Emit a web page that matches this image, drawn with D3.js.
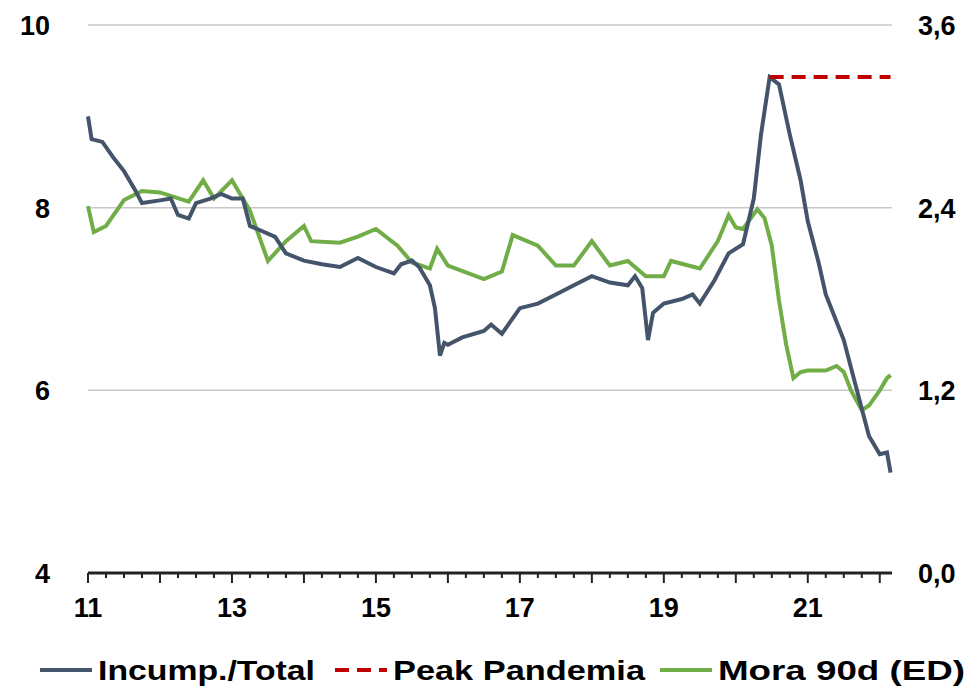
<!DOCTYPE html>
<html><head><meta charset="utf-8">
<script src="https://cdn.jsdelivr.net/npm/d3@7"></script>
<style>body{margin:0;background:#fff}text{font-family:"Liberation Sans",Arial,sans-serif;font-weight:bold}</style>
</head><body><div id="chart"></div>
<script>
// year-fraction, value
const incumpDates = [11.0,11.05,11.2,11.35,11.5,11.65,11.75,12.0,12.15,12.25,12.4,12.5,12.7,12.85,13.0,13.15,13.25,13.4,13.6,13.75,14.0,14.25,14.5,14.75,15.0,15.25,15.35,15.5,15.6,15.75,15.82,15.89,15.95,16.0,16.2,16.5,16.6,16.75,17.0,17.25,17.5,17.75,18.0,18.25,18.5,18.6,18.7,18.78,18.85,19.0,19.25,19.4,19.5,19.7,19.9,20.1,20.25,20.35,20.47,20.6,20.75,20.9,21.0,21.15,21.25,21.5,21.7,21.85,22.0,22.1,22.15];
const incumpValues = [9.0,8.75,8.72,8.55,8.4,8.2,8.05,8.08,8.1,7.92,7.88,8.05,8.1,8.15,8.1,8.1,7.8,7.75,7.68,7.5,7.42,7.38,7.35,7.45,7.35,7.28,7.38,7.42,7.35,7.15,6.9,6.38,6.52,6.5,6.58,6.65,6.72,6.62,6.9,6.95,7.05,7.15,7.25,7.18,7.15,7.25,7.12,6.55,6.85,6.95,7.0,7.05,6.95,7.2,7.5,7.6,8.1,8.8,9.43,9.35,8.8,8.3,7.85,7.4,7.05,6.55,5.95,5.5,5.3,5.32,5.1];
const moraDates = [11.0,11.08,11.25,11.5,11.75,12.0,12.4,12.6,12.75,13.0,13.25,13.5,13.75,14.0,14.1,14.5,14.75,15.0,15.3,15.5,15.75,15.85,16.0,16.5,16.75,16.9,17.25,17.5,17.75,18.0,18.25,18.5,18.75,19.0,19.1,19.5,19.75,19.9,20.0,20.1,20.3,20.4,20.5,20.6,20.7,20.8,20.9,21.0,21.25,21.4,21.5,21.6,21.75,21.85,22.0,22.1,22.15];
const moraValues = [2.41,2.24,2.28,2.45,2.51,2.5,2.44,2.58,2.46,2.58,2.38,2.05,2.18,2.28,2.18,2.17,2.21,2.26,2.15,2.04,2.0,2.13,2.02,1.93,1.98,2.22,2.15,2.02,2.02,2.18,2.02,2.05,1.95,1.95,2.05,2.0,2.18,2.35,2.27,2.26,2.39,2.33,2.15,1.79,1.5,1.28,1.32,1.33,1.33,1.36,1.32,1.2,1.07,1.1,1.2,1.28,1.30];
const peakValue = 9.43, peakStart = 20.47, peakEnd = 22.15;
const xTicks = [11,13,15,17,19,21];
const leftTicks = [4,6,8,10];
const rightTicks = [0,1.2,2.4,3.6];

const W = 978, H = 693;
const svg = d3.select("#chart").append("svg").attr("width", W).attr("height", H);
const x = d3.scaleLinear().domain([11, 22.17]).range([88, 892]);
const y = d3.scaleLinear().domain([4, 10]).range([573, 25]);
const y2 = d3.scaleLinear().domain([0, 3.6]).range([573, 25]);

svg.append("g").selectAll("line").data(leftTicks.slice(1)).join("line")
  .attr("x1", 88).attr("x2", 892).attr("y1", d => y(d)).attr("y2", d => y(d))
  .attr("stroke", "#c8c8c8").attr("stroke-width", 1.5);

svg.append("g").selectAll("text").data(leftTicks).join("text")
  .attr("x", 50).attr("y", d => y(d) + 10).attr("text-anchor", "end")
  .attr("font-size", 27).text(d => d);
svg.append("g").selectAll("text").data(rightTicks).join("text")
  .attr("x", 918).attr("y", d => y2(d) + 10).attr("font-size", 27)
  .text(d => d.toFixed(1).replace(".", ","));

// x axis
svg.append("line").attr("x1", 88).attr("x2", 892).attr("y1", 573).attr("y2", 573)
  .attr("stroke", "#222").attr("stroke-width", 3);
const monthTicks = d3.range(11, 22.17, 1/4);
svg.append("g").selectAll("line").data(monthTicks).join("line")
  .attr("x1", d => x(d)).attr("x2", d => x(d)).attr("y1", 573)
  .attr("y2", d => Number.isInteger(d) ? 583 : 578)
  .attr("stroke", "#222").attr("stroke-width", 2);
svg.append("g").selectAll("text").data(xTicks).join("text")
  .attr("x", d => x(d)).attr("y", 617).attr("text-anchor", "middle")
  .attr("font-size", 27).text(d => d);

const line1 = d3.line().x(d => x(d[0])).y(d => y(d[1]));
const line2 = d3.line().x(d => x(d[0])).y(d => y2(d[1]));
svg.append("path").datum(d3.zip(moraDates, moraValues)).attr("d", line2)
  .attr("fill", "none").attr("stroke", "#70ad47").attr("stroke-width", 4);
svg.append("path").datum(d3.zip(incumpDates, incumpValues)).attr("d", line1)
  .attr("fill", "none").attr("stroke", "#44546a").attr("stroke-width", 4);
svg.append("path").datum([[peakStart, peakValue], [peakEnd, peakValue]]).attr("d", line1)
  .attr("fill", "none").attr("stroke", "#c00000").attr("stroke-width", 4)
  .attr("stroke-dasharray", "14,8");

const legend = [
  {label: "Incump./Total", color: "#44546a", dash: null, x: 40, w: 217},
  {label: "Peak Pandemia", color: "#c00000", dash: "14,8", x: 335, w: 252},
  {label: "Mora 90d (ED)", color: "#70ad47", dash: null, x: 660, w: 247}
];
const lg = svg.append("g").selectAll("g").data(legend).join("g")
  .attr("transform", d => `translate(${d.x},670)`);
lg.append("line").attr("x1", 0).attr("x2", 52).attr("y1", 0).attr("y2", 0)
  .attr("stroke", d => d.color).attr("stroke-width", 4).attr("stroke-dasharray", d => d.dash);
lg.append("text").attr("x", 58).attr("y", 10).attr("font-size", 28)
  .attr("textLength", d => d.w).attr("lengthAdjust", "spacingAndGlyphs").text(d => d.label);
</script></body></html>
